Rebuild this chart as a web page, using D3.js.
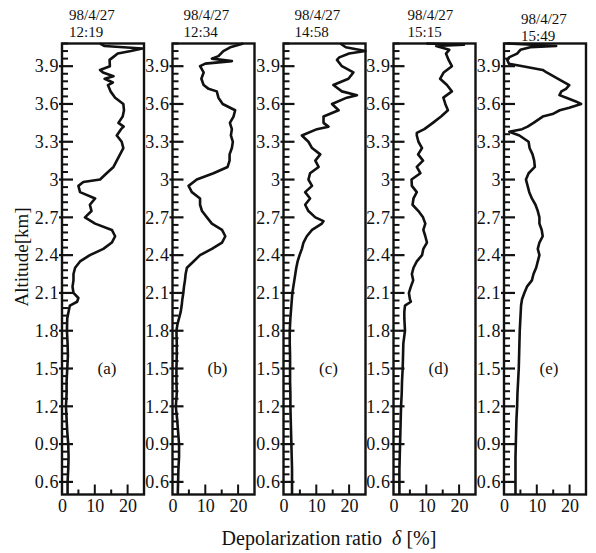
<!DOCTYPE html>
<html lang="en">
<head>
<meta charset="UTF-8">
<title>depolarization profiles</title>
<script src="https://d3js.org/d3.v7.min.js"></script>
<style>
  body { margin: 0; background: #fff; }
  text { font-family: "Liberation Serif", "Times New Roman", serif; fill: #111; }
</style>
</head>
<body>
<script>
// ---- data ----
var dates = ["98/4/27", "98/4/27", "98/4/27", "98/4/27", "98/4/27"];
var times = ["12:19", "12:34", "14:58", "15:15", "15:49"];
var panelNames = ["(a)", "(b)", "(c)", "(d)", "(e)"];
var yTicks = [0.6, 0.9, 1.2, 1.5, 1.8, 2.1, 2.4, 2.7, 3.0, 3.3, 3.6, 3.9];
var xLabels = [0, 10, 20];
var xMajor = [10, 20];
var xMinor = [5, 15];

// altitude [km] and depolarization ratio [%] for each panel
var altA = [4.08,4.06,4.04,4.02,4.0,3.97,3.95,3.9,3.87,3.85,3.82,3.8,3.77,3.75,3.7,3.65,3.6,3.55,3.5,3.45,3.42,3.4,3.35,3.3,3.25,3.2,3.15,3.1,3.05,3.0,2.98,2.95,2.9,2.85,2.8,2.75,2.7,2.65,2.6,2.55,2.5,2.45,2.4,2.35,2.3,2.25,2.2,2.15,2.1,2.06,2.03,2.0,1.95,1.9,1.8,1.7,1.6,1.5,1.4,1.3,1.2,1.1,1.0,0.9,0.8,0.7,0.6,0.5];
var depA = [11.6,13.0,24.5,21,17,15.5,14.5,14.6,11.6,12.5,15.7,13.0,15.5,14.0,14.8,16.2,18.7,18.9,18.5,17.2,18.8,18.0,16.7,18.2,18.7,17.7,16.7,15.7,13.6,11.6,6.5,5.0,5.5,10.1,8.5,9.0,7.0,10.1,15.2,16.2,15.2,12.6,8.5,5.5,4.0,3.5,3.5,3.2,3.5,5.0,4.6,2.4,2.0,1.6,1.5,1.7,1.8,1.6,1.4,1.4,1.2,1.4,1.6,1.9,2.0,1.9,1.7,1.7];

var altB = [4.08,4.05,4.02,3.98,3.96,3.94,3.92,3.9,3.85,3.8,3.75,3.72,3.7,3.65,3.6,3.55,3.5,3.45,3.4,3.35,3.3,3.25,3.2,3.15,3.1,3.05,3.0,2.95,2.9,2.85,2.8,2.75,2.7,2.65,2.6,2.55,2.5,2.45,2.4,2.35,2.3,2.25,2.2,2.15,2.1,2.05,2.0,1.95,1.9,1.85,1.8,1.7,1.6,1.5,1.4,1.3,1.2,1.1,1.0,0.9,0.8,0.7,0.6,0.5];
var depB = [21.6,17.6,15.5,14.0,12.0,18.1,10.0,8.4,9.5,8.8,9.5,11.0,13.5,14.0,15.3,19.1,18.6,17.5,18.1,17.8,18.4,18.1,17.4,17.4,16.8,12.5,7.4,4.9,5.9,8.4,8.4,9.0,10.5,12.0,15.1,16.1,15.1,12.0,8.4,6.4,4.4,4.0,3.8,3.5,3.3,3.0,2.8,2.5,2.0,1.5,1.2,1.3,1.3,1.2,1.2,1.3,1.0,1.4,1.7,2.0,2.0,1.8,1.7,1.6];

var altC = [4.08,4.05,4.02,4.0,3.97,3.95,3.9,3.85,3.8,3.75,3.7,3.67,3.65,3.6,3.55,3.5,3.45,3.42,3.4,3.35,3.3,3.25,3.2,3.15,3.1,3.05,3.0,2.95,2.9,2.85,2.8,2.75,2.7,2.67,2.65,2.6,2.55,2.5,2.45,2.4,2.35,2.3,2.25,2.2,2.15,2.1,2.0,1.9,1.8,1.7,1.6,1.5,1.4,1.3,1.2,1.1,1.0,0.9,0.8,0.7,0.6,0.5];
var depC = [17.3,19.0,25,20,17,16.3,17.8,21.3,19.8,15.2,17.8,22.4,19.3,14.8,16.8,12.2,12.2,13.7,10.2,5.6,7.6,8.7,11.2,9.7,10.7,8.1,7.6,8.7,6.6,8.1,6.6,7.6,9.7,12.2,11.7,8.7,7.1,6.1,5.6,4.9,4.3,3.9,3.6,3.3,3.0,2.7,2.4,2.1,1.9,1.9,2.0,2.0,2.0,2.1,2.1,2.2,2.3,2.4,2.5,2.6,2.6,2.6];

var altD = [4.08,4.07,4.06,4.03,4.0,3.95,3.9,3.85,3.8,3.75,3.7,3.65,3.6,3.55,3.5,3.45,3.4,3.37,3.35,3.3,3.25,3.2,3.15,3.1,3.05,3.0,2.95,2.9,2.85,2.8,2.75,2.7,2.65,2.6,2.55,2.5,2.45,2.4,2.35,2.3,2.25,2.2,2.15,2.1,2.05,2.03,2.0,1.95,1.9,1.8,1.7,1.6,1.5,1.4,1.3,1.2,1.1,1.0,0.9,0.8,0.7,0.6,0.5];
var depD = [10.0,21.5,13.0,17.0,16.0,16.8,17.8,15.3,14.2,16.3,17.8,15.2,15.8,16.6,14.5,12.0,9.4,7.1,7.1,7.6,8.7,7.5,9.0,7.1,8.2,5.5,5.6,7.1,6.1,5.8,7.6,9.0,9.7,9.1,9.7,10.2,9.1,8.7,7.1,6.1,5.6,6.0,5.3,4.7,5.0,5.3,3.5,3.3,3.3,3.5,3.0,2.9,2.8,2.6,2.5,2.3,2.2,2.1,2.0,1.9,1.8,1.8,1.8];

var altE = [4.08,4.06,4.05,4.03,4.0,3.97,3.95,3.92,3.9,3.87,3.85,3.8,3.75,3.72,3.7,3.67,3.65,3.62,3.6,3.57,3.55,3.52,3.5,3.45,3.42,3.4,3.38,3.35,3.3,3.25,3.2,3.15,3.1,3.05,3.0,2.95,2.9,2.85,2.8,2.75,2.7,2.65,2.6,2.55,2.5,2.45,2.4,2.35,2.3,2.25,2.2,2.15,2.1,2.05,2.0,1.9,1.8,1.7,1.6,1.5,1.4,1.3,1.2,1.1,1.0,0.9,0.8,0.7,0.6,0.5];
var depE = [1.0,15.9,8.0,5.0,4.0,1.5,1.0,1.5,5.7,11.8,13.0,16.5,19.9,18.9,17.5,16.9,19.0,21.9,23.5,19.9,17.0,14.8,11.8,9.0,7.2,5.5,1.6,4.7,7.5,7.8,8.7,9.2,9.4,7.5,6.7,7.2,7.7,8.5,9.6,10.3,10.8,10.8,11.5,11.8,10.8,10.3,10.8,10.3,9.8,9.0,8.5,7.0,6.2,5.5,5.2,5.0,4.8,4.7,4.6,4.5,4.3,4.1,4.0,3.8,3.7,3.6,3.5,3.5,3.5,3.5];

var profiles = [[altA, depA], [altB, depB], [altC, depC], [altD, depD], [altE, depE]];

// ---- layout ----
var W = 596, H = 553;
var panelLeft = [62, 172.5, 283.5, 393.5, 504];
var panelW = 82;
var titleDx = [8, 12, 12, 15, 18];
var titleDy = [0, 0, 0, 0, 4];

var svg = d3.select("body").append("svg")
    .attr("width", W)
    .attr("height", H);

var y = d3.scaleLinear().domain([0.5, 4.08]).range([494.5, 43.5]);

// minor altitude ticks every 0.06 km
var yMinor = d3.range(10, 69)
    .filter(function(k) { return k % 5 !== 0; })
    .map(function(k) { return +(k * 0.06).toFixed(2); });

var fmtAlt = function(d) { return d === 3 ? "3" : d.toFixed(1); };

profiles.forEach(function(p, i) {
  var left = panelLeft[i];
  var x = d3.scaleLinear().domain([0, 25]).range([left, left + panelW]);
  var g = svg.append("g");
  var bottom = y(0.5);

  // y ticks (drawn by hand so they cross the frame)
  g.selectAll("line.ymin")
    .data(yMinor)
    .enter().append("line")
    .attr("class", "ymin")
    .attr("x1", left)
    .attr("x2", left + 6)
    .attr("y1", function(d) { return y(d); })
    .attr("y2", function(d) { return y(d); })
    .attr("stroke", "#111")
    .attr("stroke-width", 2);
  g.selectAll("line.ymaj")
    .data(yTicks)
    .enter().append("line")
    .attr("class", "ymaj")
    .attr("x1", left - 3)
    .attr("x2", left + 11)
    .attr("y1", function(d) { return y(d); })
    .attr("y2", function(d) { return y(d); })
    .attr("stroke", "#111")
    .attr("stroke-width", 2.2);

  // y tick labels
  var ya = g.append("g")
    .attr("transform", "translate(" + left + ",0)")
    .call(d3.axisLeft(y).tickValues(yTicks).tickSize(0).tickPadding(3).tickFormat(fmtAlt));
  ya.select(".domain").remove();
  ya.selectAll("text")
    .attr("font-family", "Liberation Serif, serif")
    .attr("font-size", 18)
    .attr("letter-spacing", 0.6)
    .attr("fill", "#111");

  // x ticks
  g.selectAll("line.xmaj")
    .data(xMajor)
    .enter().append("line")
    .attr("x1", function(d) { return x(d); })
    .attr("x2", function(d) { return x(d); })
    .attr("y1", bottom)
    .attr("y2", bottom - 10)
    .attr("stroke", "#111")
    .attr("stroke-width", 2);
  g.selectAll("line.xmin")
    .data(xMinor)
    .enter().append("line")
    .attr("x1", function(d) { return x(d); })
    .attr("x2", function(d) { return x(d); })
    .attr("y1", bottom)
    .attr("y2", bottom - 5)
    .attr("stroke", "#111")
    .attr("stroke-width", 2);

  var xa = g.append("g")
    .attr("transform", "translate(0," + bottom + ")")
    .call(d3.axisBottom(x).tickValues(xLabels).tickSize(0).tickPadding(5).tickFormat(d3.format("d")));
  xa.select(".domain").remove();
  xa.selectAll("text")
    .attr("font-family", "Liberation Serif, serif")
    .attr("font-size", 18)
    .attr("fill", "#111");

  // profile line
  var pts = p[0].map(function(a, k) { return [p[1][k], a]; });
  g.append("path")
    .datum(pts)
    .attr("fill", "none")
    .attr("stroke", "#111")
    .attr("stroke-width", 2.6)
    .attr("stroke-linejoin", "round")
    .attr("d", d3.line().x(function(d) { return x(d[0]); }).y(function(d) { return y(d[1]); }));

  // frame
  g.append("rect")
    .attr("x", x(0))
    .attr("y", y(4.08))
    .attr("width", x(25) - x(0))
    .attr("height", bottom - y(4.08))
    .attr("fill", "none")
    .attr("stroke", "#111")
    .attr("stroke-width", 2.4);

  // title (date / time)
  g.append("text")
    .attr("x", left + titleDx[i] - 1)
    .attr("y", 20 + titleDy[i])
    .attr("font-size", 15)
    .text(dates[i]);
  g.append("text")
    .attr("x", left + titleDx[i] - 1)
    .attr("y", 37 + titleDy[i])
    .attr("font-size", 15)
    .text(times[i]);

  // panel letter
  g.append("text")
    .attr("x", left + 45)
    .attr("y", 374)
    .attr("text-anchor", "middle")
    .attr("font-size", 17)
    .text(panelNames[i]);
});

// axis titles
svg.append("text")
  .attr("transform", "translate(28,257) rotate(-90)")
  .attr("text-anchor", "middle")
  .attr("font-size", 19)
  .text("Altitude[km]");

var xt = svg.append("text")
  .attr("x", 329)
  .attr("y", 545)
  .attr("text-anchor", "middle")
  .attr("font-size", 20)
  .attr("xml:space", "preserve");
xt.append("tspan").text("Depolarization ratio  ");
xt.append("tspan").attr("font-style", "italic").text("δ");
xt.append("tspan").text(" [%]");
</script>
</body>
</html>
